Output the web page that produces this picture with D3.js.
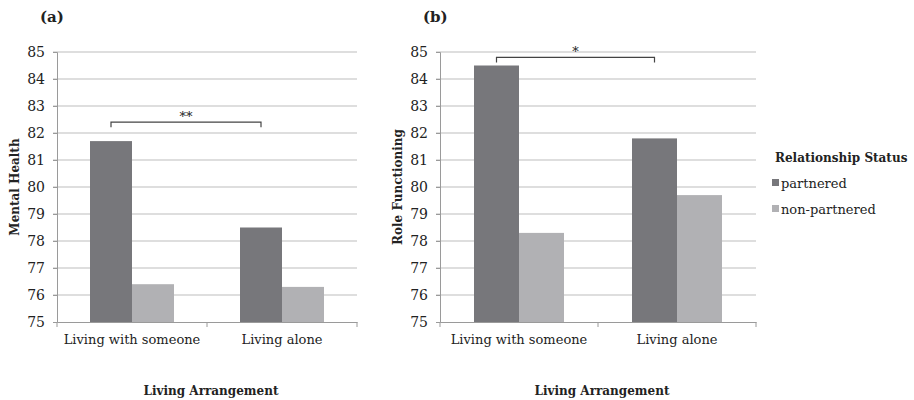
<!DOCTYPE html>
<html>
<head>
<meta charset="utf-8">
<script src="https://d3js.org/d3.v7.min.js"></script>
<style>
  body { margin: 0; background: #fff; }
  svg text { font-family: "DejaVu Serif", serif; fill: #222; }
</style>
</head>
<body>
<svg id="chart" width="914" height="400"></svg>
<script>
// data
const categories = ["Living with someone", "Living alone"];
const seriesNames = ["partnered", "non-partnered"];
const mentalPartnered = [81.7, 78.5];
const mentalNonPartnered = [76.4, 76.3];
const rolePartnered = [84.5, 81.8];
const roleNonPartnered = [78.3, 79.7];
const yTicks = [75, 76, 77, 78, 79, 80, 81, 82, 83, 84, 85];

const colors = ["#77777b", "#b1b1b4"];
const FONT = "DejaVu Serif";

const svg = d3.select("#chart");

const y = d3.scaleLinear().domain([75, 85]).range([322, 52]);

function drawPanel(opt) {
  const g = svg.append("g");

  const x0 = d3.scaleBand().domain(categories).range([opt.left, opt.right]).paddingInner(0).paddingOuter(0);
  const x1 = d3.scaleBand().domain(seriesNames)
    .range([x0.bandwidth() / 2 - opt.barW, x0.bandwidth() / 2 + opt.barW]);

  // gridlines
  g.selectAll(".grid")
    .data(yTicks.slice(1))
    .enter().append("line")
    .attr("x1", opt.left - 4).attr("x2", opt.right)
    .attr("y1", d => y(d)).attr("y2", d => y(d))
    .attr("stroke", "#bdbdbd").attr("stroke-width", 1);

  // y axis
  const yAxis = g.append("g")
    .attr("transform", `translate(${opt.left},0)`)
    .call(d3.axisLeft(y).tickValues(yTicks).tickSize(4).tickPadding(8));
  yAxis.attr("font-family", FONT);
  yAxis.select(".domain").attr("stroke", "#9a9a9a");
  yAxis.selectAll(".tick line").attr("stroke", "#9a9a9a");
  yAxis.selectAll(".tick text").attr("font-size", 14).attr("fill", "#222");

  // x axis
  const xAxis = g.append("g")
    .attr("transform", `translate(0,${y(75)})`)
    .call(d3.axisBottom(x0).tickSize(0).tickPadding(13));
  xAxis.attr("font-family", FONT);
  xAxis.select(".domain").attr("stroke", "#9a9a9a");
  xAxis.selectAll(".tick text").attr("font-size", 13).attr("fill", "#222");
  // category separators
  g.selectAll(".sep")
    .data([opt.left, opt.left + x0.bandwidth(), opt.right])
    .enter().append("line")
    .attr("x1", d => d).attr("x2", d => d)
    .attr("y1", y(75)).attr("y2", y(75) + 5)
    .attr("stroke", "#9a9a9a");

  // bars
  const rows = categories.map((c, i) => ({ cat: c, vals: [opt.a[i], opt.b[i]] }));
  g.selectAll(".grp")
    .data(rows)
    .enter().append("g")
    .attr("transform", d => `translate(${x0(d.cat)},0)`)
    .selectAll("rect")
    .data(d => d.vals.map((v, j) => ({ s: seriesNames[j], v: v, j: j })))
    .enter().append("rect")
    .attr("x", d => x1(d.s))
    .attr("width", x1.bandwidth())
    .attr("y", d => y(d.v))
    .attr("height", d => y(75) - y(d.v))
    .attr("fill", d => colors[d.j]);

  // significance bracket
  const bx1 = x0(categories[0]) + x1(seriesNames[0]) + x1.bandwidth() / 2;
  const bx2 = x0(categories[1]) + x1(seriesNames[0]) + x1.bandwidth() / 2;
  const by = y(opt.bracketY);
  g.append("path")
    .attr("d", `M${bx1},${by + 5}V${by}H${bx2}V${by + 5}`)
    .attr("fill", "none").attr("stroke", "#444").attr("stroke-width", 1.2);
  g.append("text")
    .attr("x", (bx1 + bx2) / 2).attr("y", by - 1)
    .attr("text-anchor", "middle").attr("font-size", 13)
    .text(opt.stars);

  // panel label
  g.append("text")
    .attr("x", opt.left - 17).attr("y", 22)
    .attr("font-size", 15).attr("font-weight", "bold")
    .text(opt.tag);

  // y title
  g.append("text")
    .attr("transform", `translate(${opt.left - 38},${(y(75) + y(85)) / 2}) rotate(-90)`)
    .attr("text-anchor", "middle").attr("font-size", 12).attr("font-weight", "bold")
    .text(opt.yTitle);

  // x title
  g.append("text")
    .attr("x", (opt.left + opt.right) / 2 + 4).attr("y", 395)
    .attr("text-anchor", "middle").attr("font-size", 12).attr("font-weight", "bold")
    .text("Living Arrangement");
}

drawPanel({ left: 57, right: 357, barW: 42, a: mentalPartnered, b: mentalNonPartnered,
  bracketY: 82.4, stars: "**", tag: "(a)", yTitle: "Mental Health" });
drawPanel({ left: 440, right: 756, barW: 45, a: rolePartnered, b: roleNonPartnered,
  bracketY: 84.8, stars: "*", tag: "(b)", yTitle: "Role Functioning" });

// legend
const legend = svg.append("g").attr("transform", "translate(772,0)");
legend.append("text")
  .attr("x", 3).attr("y", 162)
  .attr("font-size", 12).attr("font-weight", "bold")
  .text("Relationship Status");
const items = legend.selectAll(".item")
  .data(seriesNames)
  .enter().append("g")
  .attr("transform", (d, i) => `translate(0,${188 + i * 26})`);
items.append("rect")
  .attr("x", 0).attr("y", -9).attr("width", 7).attr("height", 7)
  .attr("fill", (d, i) => colors[i]);
items.append("text")
  .attr("x", 9).attr("y", 0)
  .attr("font-size", 13)
  .text(d => d);
</script>
</body>
</html>
